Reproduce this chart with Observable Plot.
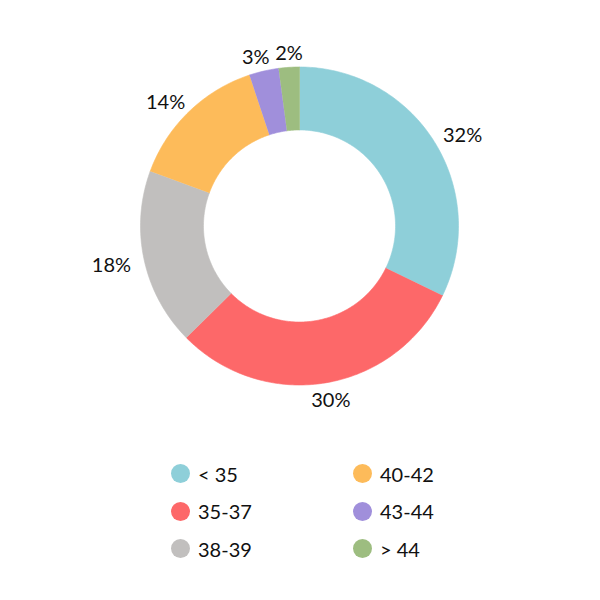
<!DOCTYPE html>
<html>
<head>
<meta charset="utf-8">
<script src="https://cdn.jsdelivr.net/npm/d3@7"></script>
<script src="https://cdn.jsdelivr.net/npm/@observablehq/plot@0.6"></script>
<style>
  body { margin: 0; background: #fff; font-family: Lato, "Noto Sans", sans-serif; color: #111; }
  #chart { width: 600px; }
  .legend { display: grid; grid-template-columns: 182px 182px; grid-auto-flow: column; grid-template-rows: repeat(3, 37.5px); padding-left: 171px; margin-top: 25px; }
  .item { display: flex; align-items: center; font-size: 20px; }
  .sw { width: 19px; height: 19px; border-radius: 50%; margin-right: 8px; flex: none; }
</style>
</head>
<body>
<div id="chart"></div>
<script>
const categories = ["< 35", "35-37", "38-39", "40-42", "43-44", "> 44"];
const values = [32.2, 30.4, 18.0, 14.3, 3.0, 2.1];
const colors = ["#8ecfd9", "#fd6869", "#c1bfbe", "#fdbb5a", "#a08fdb", "#9dbd80"];

const outerPx = 159;
const innerRatio = 0.604;
const total = d3.sum(values);
const slices = [];
let acc = 0;
values.forEach((v, i) => {
  const a0 = acc / total * 2 * Math.PI;
  acc += v;
  const a1 = acc / total * 2 * Math.PI;
  slices.push({ key: categories[i], value: v, a0, a1, label: Math.round(v) + "%" });
});

const pts = [];
for (const s of slices) {
  const n = Math.max(2, Math.ceil((s.a1 - s.a0) / (2 * Math.PI) * 360));
  for (let t = 0; t <= n; t++) {
    const a = s.a0 + (s.a1 - s.a0) * t / n;
    pts.push({ key: s.key, x: Math.sin(a), y: Math.cos(a) });
  }
  for (let t = n; t >= 0; t--) {
    const a = s.a0 + (s.a1 - s.a0) * t / n;
    pts.push({ key: s.key, x: innerRatio * Math.sin(a), y: innerRatio * Math.cos(a) });
  }
}

// label layout: anchor on the mid-angle, horizontal alignment follows the angle,
// then neighbouring labels on the same line are pushed apart
const L = slices.map(s => {
  const m = (s.a0 + s.a1) / 2;
  const hw = s.label.length * 5.8;
  const r = 175;
  return { label: s.label, hw, px: r * Math.sin(m) + hw * Math.sin(m), py: -r * Math.cos(m) };
});
for (let i = 0; i < L.length; i++) {
  const a = L[i], b = L[(i + 1) % L.length];
  if (Math.abs(a.py - b.py) < 18) {
    const left = a.px < b.px ? a : b, right = a.px < b.px ? b : a;
    const gap = (right.px - right.hw) - (left.px + left.hw);
    if (gap < 10) { const d = (10 - gap) / 2; left.px -= d; right.px += d; }
  }
}
const labels = L.map(l => ({ label: l.label, x: l.px / outerPx, y: -l.py / outerPx }));

const chart = Plot.plot({
  width: 600,
  height: 430,
  marginLeft: 140,
  marginRight: 142,
  marginTop: 66.5,
  marginBottom: 45.5,
  x: { domain: [-1, 1], axis: null },
  y: { domain: [-1, 1], axis: null },
  color: { domain: categories, range: colors },
  style: { fontFamily: "Lato, 'Noto Sans', sans-serif", background: "#fff" },
  marks: [
    Plot.line(pts, { x: "x", y: "y", z: "key", fill: "key", stroke: "key", strokeWidth: 0.6 }),
    Plot.text(labels, { x: "x", y: "y", text: "label", fontSize: 20, fill: "#111", dy: 2, textAnchor: "middle", lineAnchor: "middle" })
  ]
});
document.getElementById("chart").appendChild(chart);

const legend = document.createElement("div");
legend.className = "legend";
categories.forEach((c, i) => {
  const item = document.createElement("div");
  item.className = "item";
  const sw = document.createElement("span");
  sw.className = "sw";
  sw.style.background = colors[i];
  const tx = document.createElement("span");
  tx.textContent = c;
  item.appendChild(sw);
  item.appendChild(tx);
  legend.appendChild(item);
});
document.getElementById("chart").appendChild(legend);
</script>
</body>
</html>
